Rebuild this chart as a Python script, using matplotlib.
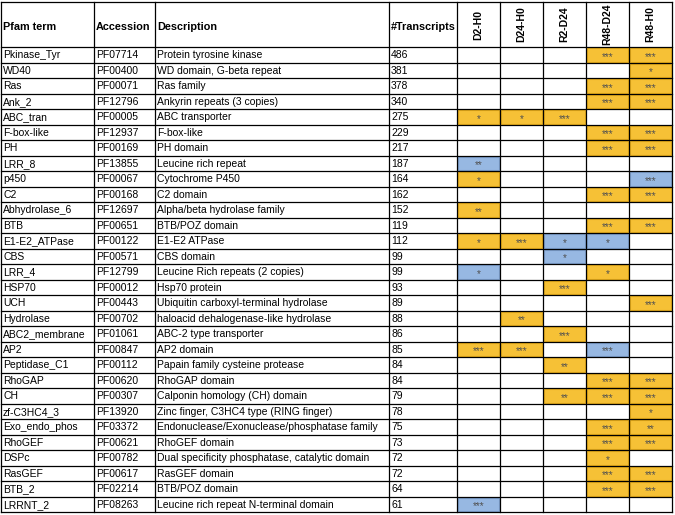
import matplotlib
matplotlib.use("Agg")
import matplotlib.pyplot as plt
from matplotlib.patches import Rectangle

# table content
pfam = ["Pkinase_Tyr", "WD40", "Ras", "Ank_2", "ABC_tran", "F-box-like", "PH",
        "LRR_8", "p450", "C2", "Abhydrolase_6", "BTB", "E1-E2_ATPase", "CBS",
        "LRR_4", "HSP70", "UCH", "Hydrolase", "ABC2_membrane", "AP2",
        "Peptidase_C1", "RhoGAP", "CH", "zf-C3HC4_3", "Exo_endo_phos",
        "RhoGEF", "DSPc", "RasGEF", "BTB_2", "LRRNT_2"]
accession = ["PF07714", "PF00400", "PF00071", "PF12796", "PF00005", "PF12937",
             "PF00169", "PF13855", "PF00067", "PF00168", "PF12697", "PF00651",
             "PF00122", "PF00571", "PF12799", "PF00012", "PF00443", "PF00702",
             "PF01061", "PF00847", "PF00112", "PF00620", "PF00307", "PF13920",
             "PF03372", "PF00621", "PF00782", "PF00617", "PF02214", "PF08263"]
description = ["Protein tyrosine kinase", "WD domain, G-beta repeat", "Ras family",
               "Ankyrin repeats (3 copies)", "ABC transporter", "F-box-like",
               "PH domain", "Leucine rich repeat", "Cytochrome P450", "C2 domain",
               "Alpha/beta hydrolase family", "BTB/POZ domain", "E1-E2 ATPase",
               "CBS domain", "Leucine Rich repeats (2 copies)", "Hsp70 protein",
               "Ubiquitin carboxyl-terminal hydrolase",
               "haloacid dehalogenase-like hydrolase", "ABC-2 type transporter",
               "AP2 domain", "Papain family cysteine protease", "RhoGAP domain",
               "Calponin homology (CH) domain", "Zinc finger, C3HC4 type (RING finger)",
               "Endonuclease/Exonuclease/phosphatase family", "RhoGEF domain",
               "Dual specificity phosphatase, catalytic domain", "RasGEF domain",
               "BTB/POZ domain", "Leucine rich repeat N-terminal domain"]
transcripts = [486, 381, 378, 340, 275, 229, 217, 187, 164, 162, 152, 119, 112, 99,
               99, 93, 89, 88, 86, 85, 84, 84, 79, 78, 75, 73, 72, 72, 64, 61]

contrasts = ["D2-H0", "D24-H0", "R2-D24", "R48-D24", "R48-H0"]
# stars + direction: "o" = orange (up), "b" = blue (down), "" = not significant
d2_h0 = ["", "", "", "", "1o", "", "", "2b", "1o", "", "2o", "", "1o", "", "1b",
         "", "", "", "", "3o", "", "", "", "", "", "", "", "", "", "3b"]
d24_h0 = ["", "", "", "", "1o", "", "", "", "", "", "", "", "3o", "", "",
          "", "", "2o", "", "3o", "", "", "", "", "", "", "", "", "", ""]
r2_d24 = ["", "", "", "", "3o", "", "", "", "", "", "", "", "1b", "1b", "",
          "3o", "", "", "3o", "", "2o", "", "2o", "", "", "", "", "", "", ""]
r48_d24 = ["3o", "", "3o", "3o", "", "3o", "3o", "", "", "3o", "", "3o", "1b", "", "1o",
           "", "", "", "", "3b", "", "3o", "3o", "", "3o", "3o", "1o", "3o", "3o", ""]
r48_h0 = ["3o", "1o", "3o", "3o", "", "3o", "3o", "", "3b", "3o", "", "3o", "", "", "",
          "", "3o", "", "", "", "", "3o", "3o", "1o", "2o", "3o", "", "3o", "3o", ""]
sig = [d2_h0, d24_h0, r2_d24, r48_d24, r48_h0]

fills = {"o": "#f6c136", "b": "#97b8e2"}
edges = {"o": "#e9ae1c", "b": "#7fa2d0"}

# layout in pixels
col_x = [1, 94, 155, 389, 457, 500, 543, 586, 629, 672]
top, head_bot, row_h = 2, 47, 15.5

fig = plt.figure(figsize=(6.75, 5.15), dpi=100)
ax = fig.add_axes([0, 0, 1, 1])
ax.set_xlim(0, 675)
ax.set_ylim(515, 0)
ax.axis("off")

font = "Liberation Sans"
fs = 7.5
n = len(pfam)

# header
heads = ["Pfam term", "Accession", "Description", "#Transcripts"]
for i, h in enumerate(heads):
    ax.text(col_x[i] + 2, (top + head_bot) / 2 + 2, h, ha="left", va="center",
            fontsize=fs + 0.3, fontweight="bold", family=font)
for j, c in enumerate(contrasts):
    cx = (col_x[4 + j] + col_x[5 + j]) / 2
    ax.text(cx, (top + head_bot) / 2, c, ha="center", va="center", rotation=90,
            fontsize=fs, fontweight="bold", family=font)

# body
for r in range(n):
    y0 = head_bot + r * row_h
    yc = y0 + row_h / 2 + 0.5
    for i, val in enumerate([pfam[r], accession[r], description[r], str(transcripts[r])]):
        ax.text(col_x[i] + 2, yc, val, ha="left", va="center",
                fontsize=fs, family=font)
    for j in range(len(contrasts)):
        s = sig[j][r]
        if not s:
            continue
        x0 = col_x[4 + j]
        w = col_x[5 + j] - x0
        ax.add_patch(Rectangle((x0 + 1, y0 + 1), w - 2, row_h - 2,
                               facecolor=fills[s[1]], edgecolor=edges[s[1]],
                               lw=0.8, zorder=1))
        ax.text(x0 + w / 2, yc + 1.5, "*" * int(s[0]), ha="center", va="center",
                fontsize=7.2, color="#505050", family=font, zorder=3)

# grid lines
bottom = head_bot + n * row_h
for x in col_x:
    ax.plot([x, x], [top, bottom], color="black", lw=0.9, zorder=2)
ys = [top, head_bot] + [head_bot + k * row_h for k in range(1, n + 1)]
for y in ys:
    ax.plot([col_x[0], col_x[-1]], [y, y], color="black", lw=0.9, zorder=2)

fig.savefig("out.png", dpi=100)
